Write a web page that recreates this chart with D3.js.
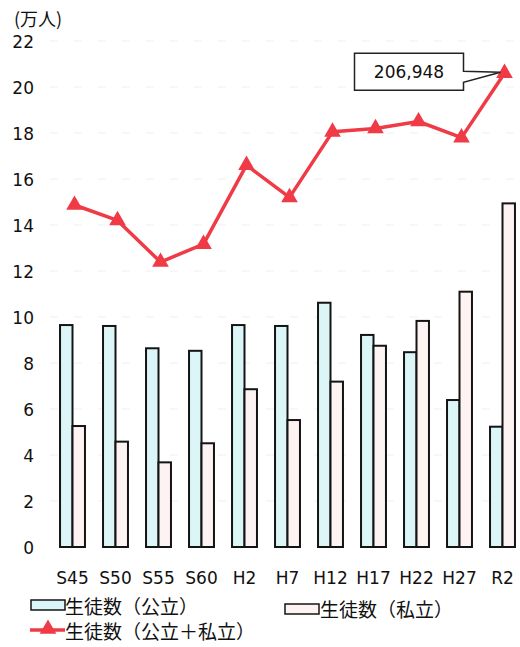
<!DOCTYPE html>
<html>
<head>
<meta charset="utf-8">
<script src="https://cdn.jsdelivr.net/npm/d3@7"></script>
<style>
  body { margin: 0; background: #fff; }
  svg { display: block; }
</style>
</head>
<body>
<svg id="chart" width="520" height="647"></svg>
<script>
// 年度
var years = ["S45", "S50", "S55", "S60", "H2", "H7", "H12", "H17", "H22", "H27", "R2"];
// 生徒数（万人）
var publicCounts = [9.65, 9.61, 8.64, 8.53, 9.65, 9.61, 10.62, 9.22, 8.47, 6.39, 5.23];
var privateCounts = [5.26, 4.58, 3.68, 4.51, 6.86, 5.52, 7.19, 8.75, 9.83, 11.10, 14.94];
var totalCounts = [14.87, 14.20, 12.39, 13.17, 16.60, 15.20, 18.05, 18.20, 18.50, 17.80, 20.6];
var yTicks = [0, 2, 4, 6, 8, 10, 12, 14, 16, 18, 20, 22];
var lastLabel = "206,948";

var svg = d3.select("#chart");
var jp = "'Noto Sans CJK JP', sans-serif";
var num = "'DejaVu Sans', Verdana, sans-serif";

var x = d3.scaleBand()
    .domain(years)
    .range([51, 524])
    .paddingInner(0.42)
    .paddingOuter(0.21);

var y = d3.scaleLinear()
    .domain([0, 22])
    .range([547, 41]);

// 補助線 (かすれた点線)
svg.append("g")
    .selectAll("line")
    .data(yTicks.slice(1))
    .enter()
    .append("line")
    .attr("x1", 50)
    .attr("x2", 520)
    .attr("y1", function (d) { return y(d); })
    .attr("y2", function (d) { return y(d); })
    .attr("stroke", "#efefef")
    .attr("stroke-width", 1)
    .attr("stroke-dasharray", "8,16");

// y軸
var yAxis = d3.axisLeft(y).tickValues(yTicks).tickSize(0).tickPadding(0);
var gy = svg.append("g")
    .attr("transform", "translate(34,0)")
    .call(yAxis);
gy.select(".domain").remove();
gy.selectAll("text")
    .attr("font-family", num)
    .attr("font-size", 17)
    .attr("fill", "#111")
    .attr("dy", "0.36em");

svg.append("text")
    .attr("x", 14)
    .attr("y", 26)
    .attr("font-family", jp)
    .attr("font-size", 18)
    .attr("fill", "#111")
    .text("(万人)");

// 棒
var half = x.bandwidth() / 2;
var bars = svg.append("g");
bars.selectAll(".pub")
    .data(publicCounts)
    .enter()
    .append("rect")
    .attr("class", "pub")
    .attr("x", function (d, i) { return x(years[i]); })
    .attr("y", function (d) { return y(d); })
    .attr("width", half)
    .attr("height", function (d) { return y(0) - y(d); })
    .attr("fill", "#dcf5f6")
    .attr("stroke", "#141414")
    .attr("stroke-width", 2);

bars.selectAll(".pri")
    .data(privateCounts)
    .enter()
    .append("rect")
    .attr("class", "pri")
    .attr("x", function (d, i) { return x(years[i]) + half; })
    .attr("y", function (d) { return y(d); })
    .attr("width", half)
    .attr("height", function (d) { return y(0) - y(d); })
    .attr("fill", "#fcf3f2")
    .attr("stroke", "#141414")
    .attr("stroke-width", 2);

// x軸
var xAxis = d3.axisBottom(x).tickSize(0).tickPadding(0);
var gx = svg.append("g")
    .attr("transform", "translate(0,570)")
    .call(xAxis);
gx.select(".domain").remove();
gx.selectAll("text")
    .attr("font-family", num)
    .attr("font-size", 17)
    .attr("fill", "#111")
    .attr("dy", "0.8em");

// 折れ線
var red = "#f03a45";
var line = d3.line()
    .x(function (d, i) { return x(years[i]) + x.bandwidth() / 2 + 2; })
    .y(function (d) { return y(d); });

svg.append("path")
    .datum(totalCounts)
    .attr("d", line)
    .attr("fill", "none")
    .attr("stroke", red)
    .attr("stroke-width", 3.5)
    .attr("stroke-linejoin", "round");

var tri = d3.symbol().type(d3.symbolTriangle).size(120);
svg.append("g")
    .selectAll("path")
    .data(totalCounts)
    .enter()
    .append("path")
    .attr("d", tri)
    .attr("transform", function (d, i) {
        return "translate(" + (x(years[i]) + x.bandwidth() / 2 + 2) + "," + y(d) + ")";
    })
    .attr("fill", red);

// 吹き出し
var lx = x(years[years.length - 1]) + x.bandwidth() / 2 + 2;
var ly = y(totalCounts[totalCounts.length - 1]);
var bx = lx - 150, by = ly - 20, bw = 109, bh = 37;
svg.append("path")
    .attr("d", "M" + bx + "," + by + "H" + (bx + bw) + "V" + (ly - 2) +
        "L" + (lx - 4) + "," + (ly - 1) + "L" + (bx + bw) + "," + (ly + 9) +
        "V" + (by + bh) + "H" + bx + "Z")
    .attr("fill", "#fff")
    .attr("stroke", "#222")
    .attr("stroke-width", 1.5);
svg.append("text")
    .attr("x", bx + bw / 2)
    .attr("y", by + 25)
    .attr("text-anchor", "middle")
    .attr("font-family", num)
    .attr("font-size", 17)
    .attr("fill", "#111")
    .text(lastLabel);

// 凡例
var leg = svg.append("g");
leg.append("rect").attr("x", 31).attr("y", 600).attr("width", 34).attr("height", 10)
    .attr("fill", "#dcf5f6").attr("stroke", "#141414").attr("stroke-width", 1.5);
leg.append("text").attr("x", 65).attr("y", 614)
    .attr("font-family", jp).attr("font-size", 19).attr("fill", "#111")
    .text("生徒数（公立）");

leg.append("rect").attr("x", 285).attr("y", 604).attr("width", 34).attr("height", 10)
    .attr("fill", "#fcf3f2").attr("stroke", "#141414").attr("stroke-width", 1.5);
leg.append("text").attr("x", 320).attr("y", 617)
    .attr("font-family", jp).attr("font-size", 19).attr("fill", "#111")
    .text("生徒数（私立）");

leg.append("line").attr("x1", 30).attr("x2", 65).attr("y1", 630).attr("y2", 630)
    .attr("stroke", red).attr("stroke-width", 3.5);
leg.append("path").attr("d", tri).attr("transform", "translate(48,629)").attr("fill", red);
leg.append("text").attr("x", 65).attr("y", 639)
    .attr("font-family", jp).attr("font-size", 19).attr("fill", "#111")
    .text("生徒数（公立＋私立）");
</script>
</body>
</html>
